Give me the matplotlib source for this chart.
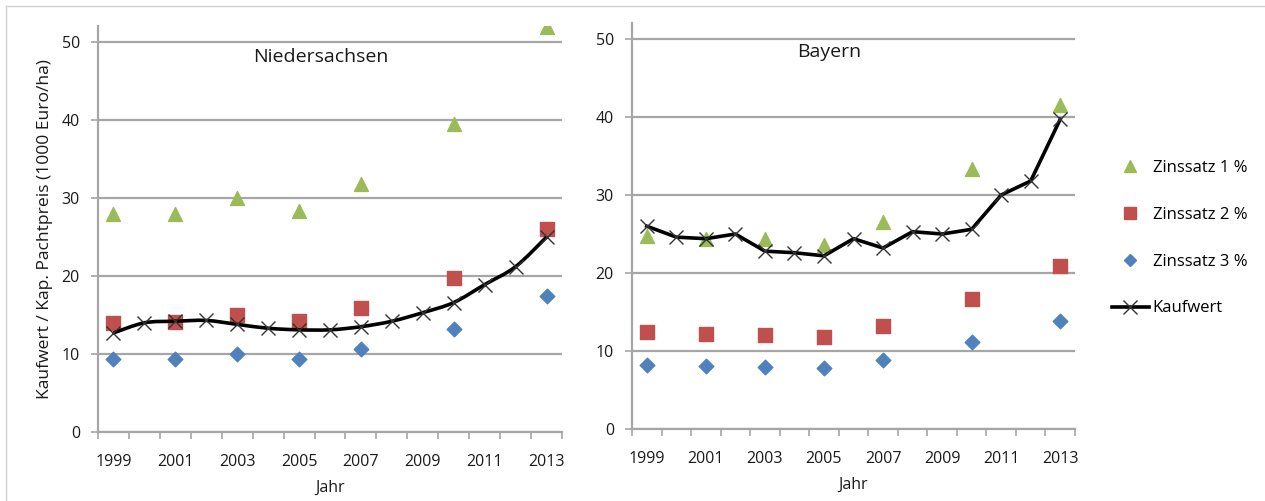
import matplotlib
matplotlib.use("Agg")
import matplotlib.pyplot as plt
import numpy as np
from matplotlib.path import Path
from matplotlib.patches import PathPatch
from matplotlib.lines import Line2D

plt.rcParams['font.family'] = ['Open Sans', 'DejaVu Sans']

years = list(range(1999, 2014))
zins_years = [1999, 2001, 2003, 2005, 2007, 2010, 2013]

# Niedersachsen
ns_z1 = [27.9, 27.9, 30.0, 28.3, 31.8, 39.5, 51.9]
ns_z2 = [14.0, 14.1, 15.0, 14.2, 15.9, 19.8, 26.0]
ns_z3 = [9.3, 9.3, 10.0, 9.4, 10.6, 13.2, 17.4]
ns_kauf = [12.7, 14.0, 14.2, 14.3, 13.8, 13.3, 13.1, 13.1, 13.5, 14.2, 15.3, 16.6, 18.9, 21.2, 25.0]

# Bayern
by_z1 = [24.8, 24.4, 24.3, 23.6, 26.5, 33.3, 41.6]
by_z2 = [12.4, 12.2, 12.1, 11.8, 13.2, 16.7, 20.9]
by_z3 = [8.25, 8.1, 8.0, 7.8, 8.9, 11.1, 13.8]
by_kauf = [26.0, 24.6, 24.4, 25.0, 22.8, 22.6, 22.2, 24.4, 23.2, 25.3, 25.0, 25.6, 30.0, 31.8, 39.7]

yticks = [0, 10, 20, 30, 40, 50]
xlabels = ['1999', '2001', '2003', '2005', '2007', '2009', '2011', '2013']
labels = ['Zinssatz 1 %', 'Zinssatz 2 %', 'Zinssatz 3 %', 'Kaufwert']

GREEN = '#9BBB59'
RED = '#C0504D'
BLUE = '#4F81BD'
GRID = '#A6A6A6'
TXT = '#1a1a1a'

fig = plt.figure(figsize=(12.65, 5.01), dpi=100)

# light frame (top + left)
fig.add_artist(Line2D([6/1265, 1], [1-6/501, 1-6/501], transform=fig.transFigure, color='#D0D0D0', lw=1))
fig.add_artist(Line2D([6/1265, 6/1265], [0, 1-6/501], transform=fig.transFigure, color='#D0D0D0', lw=1))


def smooth_path(x, y):
    # Catmull-Rom -> cubic bezier (like Excel smoothed line)
    x = np.asarray(x, float); y = np.asarray(y, float)
    n = len(x)
    verts = [(x[0], y[0])]
    codes = [Path.MOVETO]
    for i in range(n - 1):
        p0 = (x[max(i-1, 0)], y[max(i-1, 0)])
        p1 = (x[i], y[i])
        p2 = (x[i+1], y[i+1])
        p3 = (x[min(i+2, n-1)], y[min(i+2, n-1)])
        c1 = (p1[0] + (p2[0]-p0[0])/6, p1[1] + (p2[1]-p0[1])/6)
        c2 = (p2[0] - (p3[0]-p1[0])/6, p2[1] - (p3[1]-p1[1])/6)
        verts += [c1, c2, p2]
        codes += [Path.CURVE4]*3
    return Path(verts, codes)


def panel(rect, z1, z2, z3, kauf, title, title_xy, smooth):
    ax = fig.add_axes(rect)
    ax.set_xlim(1998.5, 2013.5)
    ax.set_ylim(0, 52)
    for v in yticks:
        ax.axhline(v, color=GRID, lw=1.6, zorder=0)
    ax.set_yticks(yticks)
    ax.set_xticks(range(1999, 2014, 2))
    ax.set_xticklabels(xlabels)
    ax.set_xticks(np.arange(1998.5, 2014, 1), minor=True)
    ax.tick_params(axis='x', which='major', length=0, pad=16, labelsize=11.5, colors=TXT)
    ax.tick_params(axis='x', which='minor', length=5, color=GRID, width=1.2)
    ax.tick_params(axis='y', length=5, color=GRID, width=1.2, pad=8, labelsize=11.5, colors=TXT)
    for s in ['top', 'right']:
        ax.spines[s].set_visible(False)
    ax.spines['left'].set_color(GRID)
    ax.spines['left'].set_linewidth(1.6)
    ax.spines['bottom'].set_color(GRID)
    ax.spines['bottom'].set_linewidth(1.6)
    ax.scatter(zins_years, z1, marker='^', s=100, color=GREEN, zorder=3)
    ax.scatter(zins_years, z2, marker='s', s=100, color=RED, zorder=3)
    ax.scatter(zins_years, z3, marker='D', s=55, color=BLUE, zorder=3)
    if smooth:
        ax.add_patch(PathPatch(smooth_path(years, kauf), fill=False, ec='black', lw=2.6, zorder=4))
        ax.plot(years, kauf, ls='none', marker='x', ms=10, mew=1.0, color='#333333', zorder=5)
    else:
        ax.plot(years, kauf, color='black', lw=2.6, marker='x', ms=10, mew=1.0, mec='#333333', zorder=4)
    ax.text(title_xy[0], title_xy[1], title, transform=ax.transAxes, ha='center', va='center',
            fontsize=14, color=TXT)
    ax.set_xlabel('Jahr', fontsize=11.5, labelpad=7, color=TXT)
    ax.patch.set_alpha(0)
    return ax

ax1 = panel([98/1265, 1-432/501, 464/1265, 405.6/501], ns_z1, ns_z2, ns_z3, ns_kauf,
            'Niedersachsen', (0.48, 0.925), True)
ax1.set_ylabel('Kaufwert / Kap. Pachtpreis (1000 Euro/ha)', fontsize=12.6, labelpad=6, color=TXT)

ax2 = panel([632/1265, 1-429/501, 443/1265, 405.6/501], by_z1, by_z2, by_z3, by_kauf,
            'Bayern', (0.445, 0.93), False)

handles = [
    Line2D([], [], ls='none', marker='^', ms=9, color=GREEN),
    Line2D([], [], ls='none', marker='s', ms=9, color=RED),
    Line2D([], [], ls='none', marker='D', ms=6.5, color=BLUE),
    Line2D([], [], color='black', lw=2.6, marker='x', ms=10, mew=1.0, mec='#333333'),
]
fig.legend(handles, labels, loc='upper left', bbox_to_anchor=(1097/1265, 1-145/501),
           frameon=False, fontsize=12, labelspacing=1.85, handlelength=2.2, handletextpad=0.25)

fig.savefig('out.png', dpi=100)
